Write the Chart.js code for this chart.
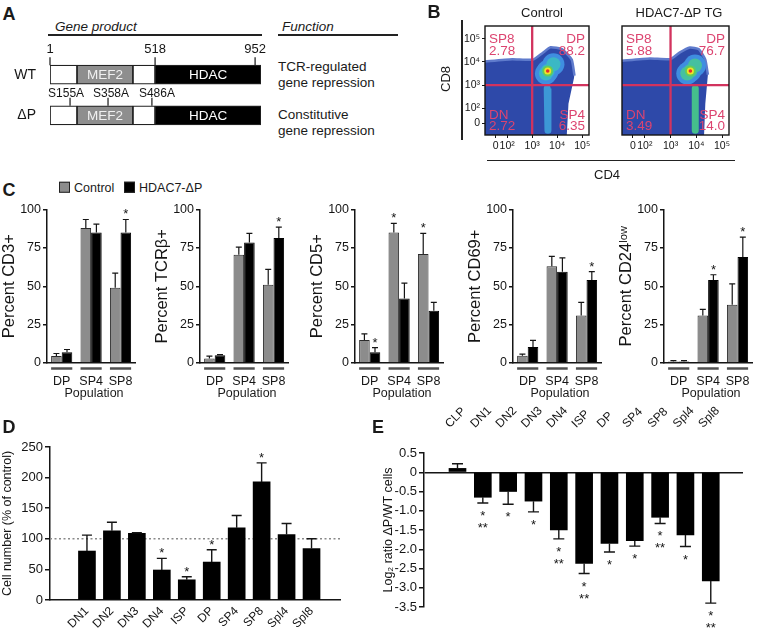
<!DOCTYPE html>
<html><head><meta charset="utf-8">
<script src="https://cdn.jsdelivr.net/npm/chart.js@4.4.1/dist/chart.umd.min.js"></script>
<style>
html,body{margin:0;padding:0;background:#fff;}
#fig{position:relative;width:760px;height:633px;overflow:hidden;font-family:'Liberation Sans',Arial,Helvetica,sans-serif;color:#1a1a1a;background:#fff;}
#fig canvas{position:absolute;}
.t{position:absolute;white-space:nowrap;line-height:1;z-index:5;}
.rule{position:absolute;background:#222;z-index:5;}
.sq{display:inline-block;width:9px;height:9px;border:1px solid #222;vertical-align:-1px;margin-right:4px;}
</style></head><body><div id="fig"></div>
<script>
// ---------------- DATA ----------------
// Panel A: domain map (diagram units 0-100 along the protein)
const aRows = ['WT', 'ΔP'];
const aSegStart = [0, 12.8, 39.3, 49.8];
const aSegEnd = [12.8, 39.3, 49.8, 100];
const aSegName = ['', 'MEF2', '', 'HDAC'];
const aWtMarks = [0, 49.8, 97.2];
const aWtMarkLabels = ['1', '518', '952'];
const aSiteMarks = [9.5, 27.5, 48.3];
const aSiteLabels = ['S155A', 'S358A', 'S486A'];

// Panel B: flow cytometry (log10 fluorescence units)
const flowTickPosX = [1.54, 2, 3, 4, 5];
const flowTickPosY = [1.35, 2, 3, 4, 5];
const flowTickLabels = ['0', '10²', '10³', '10⁴', '10⁵'];
const flowGateCD4 = 3;
const flowGateCD8 = 3;
const quadNames = ['SP8', 'DP', 'DN', 'SP4'];
const ctrlQuadPct = ['2.78', '88.2', '2.72', '6.35'];
const tgQuadPct = ['5.88', '76.7', '3.49', '14.0'];
const ctrlUpper = [{x:1.1,y:4.02},{x:2.2,y:4.12},{x:3.04,y:4.1},{x:3.42,y:4.39},{x:3.73,y:4.63},{x:4.19,y:4.55},{x:4.58,y:4.1},{x:4.69,y:3.41}];
const ctrlLower = [{x:1.1,y:0.8},{x:4.38,y:0.8},{x:4.45,y:2.2},{x:4.69,y:3.41}];
const ctrlHalo = [{x:3.55,y:3.5},{x:3.62,y:3.61},{x:3.85,y:3.9}];
const ctrlCore = [{x:3.62,y:3.61}];
const ctrlStripe = [{x:3.6,y:2.85},{x:3.63,y:1.05}];
const tgUpper = [{x:1.1,y:4.05},{x:2.2,y:4.15},{x:3.0,y:4.12},{x:3.35,y:4.4},{x:3.75,y:4.62},{x:4.1,y:4.55},{x:4.35,y:4.1},{x:4.45,y:3.45}];
const tgLower = [{x:1.1,y:0.8},{x:4.3,y:0.8},{x:4.35,y:2.2},{x:4.45,y:3.45}];
const tgHalo = [{x:3.65,y:3.5},{x:3.77,y:3.61},{x:3.95,y:3.85}];
const tgCore = [{x:3.77,y:3.61}];
const tgStripe = [{x:3.96,y:2.85},{x:3.96,y:1.05}];

// Panel C: percent positive, Control vs HDAC7-ΔP
const cGroups = ['DP', 'SP4', 'SP8'];
const cd3Control = [4.5, 88, 49];   const cd3ControlErr = [6.2, 93.5, 58.5]; const cd3ControlStars = ['', '', ''];
const cd3Hdac = [7, 85, 85];        const cd3HdacErr = [8.8, 90.5, 93.5];    const cd3HdacStars = ['', '', '*'];
const tcrControl = [3, 70.5, 51];   const tcrControlErr = [4.5, 75.5, 61];    const tcrControlStars = ['', '', ''];
const tcrHdac = [5, 78.5, 81.5];    const tcrHdacErr = [5.5, 84.5, 88.5];     const tcrHdacStars = ['', '', '*'];
const cd5Control = [15, 85, 71];    const cd5ControlErr = [19, 91, 84.5];     const cd5ControlStars = ['', '*', '*'];
const cd5Hdac = [7, 42, 34];        const cd5HdacErr = [10, 52, 39.5];        const cd5HdacStars = ['*', '', ''];
const cd69Control = [4.8, 63, 31];  const cd69ControlErr = [5.8, 69.5, 39.5]; const cd69ControlStars = ['', '', ''];
const cd69Hdac = [10.5, 59.5, 54];  const cd69HdacErr = [14.8, 68.5, 59.5];   const cd69HdacStars = ['', '', '*'];
const cd24Control = [1, 31, 38];    const cd24ControlErr = [1.5, 35, 51.5];   const cd24ControlStars = ['', '', ''];
const cd24Hdac = [1, 54, 69];       const cd24HdacErr = [1.5, 57.5, 82];      const cd24HdacStars = ['', '*', '*'];
const cTitles = ['Percent CD3+', 'Percent TCRβ+', 'Percent CD5+', 'Percent CD69+', 'Percent CD24ˡᵒʷ'];
const cYTicks = [0, 25, 50, 75, 100];

// Panel D: cell number (% of control)
const dCats = ['DN1', 'DN2', 'DN3', 'DN4', 'ISP', 'DP', 'SP4', 'SP8', 'Spl4', 'Spl8'];
const dValues = [80, 113, 109, 49, 33, 62, 118, 193, 107, 84];
const dErrTop = [106, 127, 110, 68, 38, 82, 138, 224, 125, 100];
const dStars = ['', '', '', '*', '*', '*', '', '*', '', ''];
const dReference = 100;

// Panel E: log2 ratio ΔP/WT
const eCats = ['CLP', 'DN1', 'DN2', 'DN3', 'DN4', 'ISP', 'DP', 'SP4', 'SP8', 'Spl4', 'Spl8'];
const eValues = [0.1, -0.65, -0.5, -0.75, -1.5, -2.37, -1.85, -1.78, -1.17, -1.63, -2.82];
const eErrEnd = [0.22, -0.8, -0.83, -1.03, -1.73, -2.63, -2.07, -1.92, -1.33, -1.93, -3.4];
const eStars = ['', '*\n**', '*', '*', '*\n**', '*\n**', '*', '*', '*\n**', '*', '*\n**'];

// ---------------- SETUP ----------------
const FONT = "'Liberation Sans', Arial, Helvetica, sans-serif";
Chart.defaults.font.family = FONT;
Chart.defaults.color = '#1a1a1a';
Chart.defaults.animation = false;
Chart.defaults.responsive = false;
Chart.defaults.devicePixelRatio = 1;
Chart.defaults.plugins.legend.display = false;
Chart.defaults.plugins.tooltip.enabled = false;
Chart.defaults.events = [];
const INK = '#151515';
const fig = document.getElementById('fig');

function mk(left, top, w, h) {
  const c = document.createElement('canvas');
  c.width = w; c.height = h;
  c.style.left = left + 'px'; c.style.top = top + 'px';
  c.style.width = w + 'px'; c.style.height = h + 'px';
  fig.appendChild(c);
  return c;
}
function txt(s, x, y, o = {}) {
  const d = document.createElement('div');
  d.className = 't';
  d.innerHTML = s;
  d.style.left = x + 'px'; d.style.top = y + 'px';
  d.style.fontSize = (o.size || 13) + 'px';
  if (o.bold) d.style.fontWeight = 'bold';
  if (o.italic) d.style.fontStyle = 'italic';
  if (o.color) d.style.color = o.color;
  const ax = o.align === 'left' ? '0' : o.align === 'right' ? '-100%' : '-50%';
  d.style.transform = `translate(${ax},-50%)` + (o.rot ? ` rotate(${o.rot}deg)` : '');
  fig.appendChild(d);
  return d;
}
function rule(x1, y1, x2, y2) {
  const d = document.createElement('div');
  d.className = 'rule';
  d.style.left = x1 + 'px'; d.style.top = y1 + 'px';
  d.style.width = Math.max(1.5, x2 - x1) + 'px'; d.style.height = Math.max(1.5, y2 - y1) + 'px';
  fig.appendChild(d);
}

// ---------------- PLUGINS ----------------
const errBarPlugin = {
  id: 'errBars',
  defaults: {cap: 3, lineWidth: 1.3, starFont: 13, below: false},
  afterDatasetsDraw(chart, args, o) {
    const ctx = chart.ctx;
    chart.data.datasets.forEach((ds, di) => {
      if (!ds.errEnd) return;
      const meta = chart.getDatasetMeta(di);
      const ys = chart.scales[meta.yAxisID];
      meta.data.forEach((bar, i) => {
        const e = ds.errEnd[i];
        if (e === null || e === undefined) return;
        const py = ys.getPixelForValue(e);
        ctx.save();
        ctx.strokeStyle = INK; ctx.lineWidth = o.lineWidth;
        ctx.beginPath();
        ctx.moveTo(bar.x, bar.y); ctx.lineTo(bar.x, py);
        ctx.moveTo(bar.x - o.cap, py); ctx.lineTo(bar.x + o.cap, py);
        ctx.stroke();
        const s = ds.stars ? ds.stars[i] : '';
        if (s) {
          ctx.fillStyle = INK; ctx.font = o.starFont + 'px ' + FONT;
          ctx.textAlign = 'center'; ctx.textBaseline = 'alphabetic';
          const lines = s.split('\n');
          lines.forEach((ln, k) => {
            const y = o.below ? py + 17 + k * 12 : py - 1 - (lines.length - 1 - k) * 12;
            ctx.fillText(ln, bar.x, y);
          });
        }
        ctx.restore();
      });
    });
  }
};
const groupLinePlugin = {
  id: 'groupLine',
  afterDraw(chart) {
    const ctx = chart.ctx, area = chart.chartArea;
    const metas = chart.data.datasets.map((d, i) => chart.getDatasetMeta(i));
    chart.data.labels.forEach((lab, i) => {
      let l = Infinity, r = -Infinity;
      metas.forEach(m => { const b = m.data[i]; l = Math.min(l, b.x - b.width / 2); r = Math.max(r, b.x + b.width / 2); });
      ctx.save(); ctx.strokeStyle = '#505050'; ctx.lineWidth = 2.5;
      ctx.beginPath(); ctx.moveTo(l, area.bottom + 5.5); ctx.lineTo(r, area.bottom + 5.5); ctx.stroke();
      ctx.restore();
    });
  }
};
const refLinePlugin = {
  id: 'refLine',
  defaults: {value: null},
  beforeDatasetsDraw(chart, args, o) {
    if (o.value === null) return;
    const ctx = chart.ctx, a = chart.chartArea;
    const y = chart.scales.y.getPixelForValue(o.value);
    ctx.save(); ctx.strokeStyle = '#8a8a8a'; ctx.lineWidth = 1.6; ctx.setLineDash([2, 2.5]);
    ctx.beginPath(); ctx.moveTo(a.left, y); ctx.lineTo(a.right, y); ctx.stroke(); ctx.restore();
  }
};
const domainPlugin = {
  id: 'domainText',
  defaults: {rows: []},
  afterDatasetsDraw(chart, args, o) {
    const ctx = chart.ctx, xs = chart.scales.x;
    ctx.save();
    ctx.font = '13.5px ' + FONT; ctx.textAlign = 'center'; ctx.textBaseline = 'middle';
    chart.data.datasets.forEach((ds, di) => {
      if (!ds.segText) return;
      chart.getDatasetMeta(di).data.forEach(b => {
        ctx.fillStyle = ds.segTextColor;
        ctx.fillText(ds.segText, (b.x + b.base) / 2, b.y + 1);
      });
    });
    ctx.strokeStyle = INK; ctx.lineWidth = 1.2; ctx.fillStyle = INK;
    ctx.textBaseline = 'alphabetic';
    o.rows.forEach(r => {
      ctx.font = r.size + 'px ' + FONT;
      const b = chart.getDatasetMeta(0).data[r.row];
      const top = b.y - b.height / 2;
      r.pos.forEach((p, k) => {
        const px = xs.getPixelForValue(p);
        ctx.beginPath(); ctx.moveTo(px, top); ctx.lineTo(px, top - 8); ctx.stroke();
        ctx.fillText(r.labels[k], px + (r.dx ? r.dx[k] : 0), top - 8 - r.gap);
      });
    });
    ctx.restore();
  }
};
const flowDecoPlugin = {
  id: 'flowDeco',
  defaults: {gateX: 3, gateY: 3, names: [], pcts: []},
  afterDatasetsDraw(chart, args, o) {
    const {ctx, chartArea: ar, scales: {x, y}} = chart;
    ctx.save();
    const gx = x.getPixelForValue(o.gateX), gy = y.getPixelForValue(o.gateY);
    ctx.strokeStyle = '#d2335e'; ctx.lineWidth = 2.3;
    ctx.beginPath(); ctx.moveTo(gx, ar.top); ctx.lineTo(gx, ar.bottom);
    ctx.moveTo(ar.left, gy); ctx.lineTo(ar.right, gy); ctx.stroke();
    ctx.strokeStyle = INK; ctx.lineWidth = 1.4;
    ctx.strokeRect(ar.left, ar.top, ar.width, ar.height);
    ctx.fillStyle = '#dc4470'; ctx.font = '13.5px ' + FONT; ctx.textBaseline = 'alphabetic';
    const spots = [
      {x: ar.left + 4, y: ar.top + 17, al: 'left'},
      {x: ar.right - 4, y: ar.top + 17, al: 'right'},
      {x: ar.left + 4, y: ar.bottom - 16.5, al: 'left'},
      {x: ar.right - 4, y: ar.bottom - 16.5, al: 'right'}];
    spots.forEach((s, k) => {
      ctx.textAlign = s.al;
      ctx.fillText(o.names[k], s.x, s.y);
      ctx.fillText(o.pcts[k], s.x, s.y + 11.5);
    });
    ctx.restore();
  }
};

// ---------------- PANEL A ----------------
const aColors = ['#ffffff', '#8e8e8e', '#ffffff', '#000000'];
const aTextColors = ['#000', '#f0f0f0', '#000', '#ffffff'];
new Chart(mk(0, 40, 270, 110), {
  type: 'bar',
  data: {
    labels: aRows,
    datasets: aSegStart.map((s, k) => ({
      label: aSegName[k] || 'linker',
      data: aRows.map(() => [s, aSegEnd[k]]),
      backgroundColor: aColors[k], borderColor: '#222', borderWidth: 1.2,
      borderSkipped: false, barThickness: 19, grouped: false,
      segText: aSegName[k], segTextColor: aTextColors[k]
    }))
  },
  options: {
    indexAxis: 'y',
    layout: {padding: {left: 0, right: 9, top: 10, bottom: 4}},
    scales: {
      x: {display: false, min: 0, max: 100},
      y: {grid: {display: false}, border: {display: false},
          ticks: {font: {size: 14}, padding: 6, color: INK},
          afterFit: s => { s.width = 50; }}
    },
    plugins: {domainText: {rows: [
      {row: 0, pos: aWtMarks, labels: aWtMarkLabels, gap: 4, size: 13},
      {row: 1, pos: aSiteMarks, labels: aSiteLabels, gap: 1, size: 12, dx: [-4, 3, 5]}]}}
  },
  plugins: [domainPlugin]
});
txt('Gene product', 55, 27, {italic: true, size: 13.5, align: 'left'});
rule(48, 34, 262, 35.5);
txt('Function', 282, 27, {italic: true, size: 13.5, align: 'left'});
rule(278, 34, 398, 35.5);
txt('TCR-regulated', 278, 67, {size: 13.5, align: 'left'});
txt('gene repression', 278, 83, {size: 13.5, align: 'left'});
txt('Constitutive', 278, 115, {size: 13.5, align: 'left'});
txt('gene repression', 278, 131, {size: 13.5, align: 'left'});

// ---------------- PANEL B ----------------
function flowSets(upper, lower, halo, core, stripe, stripeColor, haloColor) {
  return [
    {data: upper, showLine: true, borderColor: '#5f7bcc', borderWidth: 2.5, pointRadius: 0, tension: 0.15,
     fill: '+1', backgroundColor: '#2e49a9', order: 10},
    {data: lower, showLine: true, borderWidth: 0, pointRadius: 0, fill: false, order: 11},
    {data: stripe, showLine: true, borderColor: stripeColor, borderWidth: 7, borderCapStyle: 'round', pointRadius: 0, order: 7},
    {data: halo, pointRadius: 11, pointBackgroundColor: '#3f8ee0', pointBorderWidth: 0, order: 6},
    {data: halo, pointRadius: 7, pointBackgroundColor: haloColor, pointBorderWidth: 0, order: 5},
    {data: core, pointRadius: 5.5, pointBackgroundColor: '#63cc58', pointBorderWidth: 0, order: 4},
    {data: core, pointRadius: 3.5, pointBackgroundColor: '#f2e326', pointBorderWidth: 0, order: 3},
    {data: core, pointRadius: 1.8, pointBackgroundColor: '#e3302b', pointBorderWidth: 0, order: 2}
  ];
}
function flowChart(left, width, padLeft, padRight, showY, sets, pcts) {
  return new Chart(mk(left, 15, width, 150), {
    type: 'scatter',
    data: {datasets: sets},
    options: {
      layout: {padding: {left: padLeft, right: padRight, top: 5, bottom: 8}},
      scales: {
        x: {type: 'linear', min: 1.115, max: 5.27,
            afterBuildTicks: s => { s.ticks = flowTickPosX.map(v => ({value: v})); },
            ticks: {callback: (v, i) => flowTickLabels[i], font: {size: 10.5}, padding: 2, color: INK, autoSkip: false, maxRotation: 0},
            grid: {drawOnChartArea: false, tickLength: 3, color: INK},
            border: {display: false},
            afterFit: s => { s.height = 22; }},
        y: {type: 'linear', min: 0.85, max: 5.55, display: showY,
            afterBuildTicks: s => { s.ticks = flowTickPosY.map(v => ({value: v})); },
            ticks: {callback: (v, i) => flowTickLabels[i], font: {size: 10.5}, padding: 2, color: INK, autoSkip: false},
            grid: {drawOnChartArea: false, tickLength: 3, color: INK},
            border: {display: false},
            afterFit: s => { s.width = showY ? 55 : 0; }}
      },
      plugins: {flowDeco: {gateX: flowGateCD4, gateY: flowGateCD8, names: quadNames, pcts: pcts}}
    },
    plugins: [flowDecoPlugin]
  });
}
flowChart(430, 170, 0, 7, true, flowSets(ctrlUpper, ctrlLower, ctrlHalo, ctrlCore, ctrlStripe, '#3d98d6', '#3bb8c4'), ctrlQuadPct);
flowChart(611, 130, 10, 12, false, flowSets(tgUpper, tgLower, tgHalo, tgCore, tgStripe, '#45bf8c', '#45c0a0'), tgQuadPct);
txt('Control', 542, 12, {size: 13});
txt('HDAC7-ΔP TG', 679, 12, {size: 13});
txt('CD8', 445, 79, {size: 13, rot: -90});
rule(461, 20, 462.5, 140);
rule(487, 159.5, 735, 161);
txt('CD4', 607, 174, {size: 13});

// ---------------- PANEL C ----------------
const cAxisX = [47, 200, 355, 513, 664];
const cSets = [
  [cd3Control, cd3ControlErr, cd3ControlStars, cd3Hdac, cd3HdacErr, cd3HdacStars],
  [tcrControl, tcrControlErr, tcrControlStars, tcrHdac, tcrHdacErr, tcrHdacStars],
  [cd5Control, cd5ControlErr, cd5ControlStars, cd5Hdac, cd5HdacErr, cd5HdacStars],
  [cd69Control, cd69ControlErr, cd69ControlStars, cd69Hdac, cd69HdacErr, cd69HdacStars],
  [cd24Control, cd24ControlErr, cd24ControlStars, cd24Hdac, cd24HdacErr, cd24HdacStars]
];
cSets.forEach((S, i) => {
  const ax = cAxisX[i];
  new Chart(mk(ax - 47, 200, 144, 200), {
    type: 'bar',
    data: {labels: cGroups, datasets: [
      {label: 'Control', data: S[0], backgroundColor: '#8c8c8c', borderColor: '#2a2a2a', borderWidth: 1, errEnd: S[1], stars: S[2]},
      {label: 'HDAC7-ΔP', data: S[3], backgroundColor: '#000', borderColor: '#000', borderWidth: 1, errEnd: S[4], stars: S[5]}
    ]},
    options: {
      categoryPercentage: 0.72, barPercentage: 1,
      layout: {padding: {left: 0, right: 4, top: 8, bottom: 7}},
      scales: {
        x: {grid: {drawOnChartArea: false, drawTicks: false}, border: {color: INK, width: 1.5},
            ticks: {font: {size: 12.5}, padding: 11, color: INK},
            afterFit: s => { s.height = 30; }},
        y: {min: 0, max: 100,
            afterBuildTicks: s => { s.ticks = cYTicks.map(v => ({value: v})); },
            ticks: {font: {size: 12.5}, padding: 2, color: INK},
            grid: {drawOnChartArea: false, tickLength: 4, color: INK, lineWidth: 1.5},
            border: {color: INK, width: 1.5},
            title: {display: true, text: cTitles[i], font: {size: 16.5}, color: INK, padding: {top: 0, bottom: 0}},
            afterFit: s => { s.width = 47; }}
      },
      plugins: {errBars: {cap: 3, lineWidth: 1.2, starFont: 13}}
    },
    plugins: [errBarPlugin, groupLinePlugin]
  });
  txt('Population', ax + 47, 393, {size: 12.5});
});
txt('<span class="sq" style="background:#8c8c8c"></span>Control', 59, 188, {size: 12.5, align: 'left'});
txt('<span class="sq" style="background:#000"></span>HDAC7-ΔP', 124, 188, {size: 12.5, align: 'left'});

// ---------------- PANEL D ----------------
new Chart(mk(0, 430, 345, 203), {
  type: 'bar',
  data: {datasets: [{label: 'Cell number', data: dCats.map((c, i) => ({x: i, y: dValues[i]})),
    backgroundColor: '#000', barThickness: 17, errEnd: dErrTop, stars: dStars}]},
  options: {
    layout: {padding: {left: 0, right: 5, top: 17, bottom: 0}},
    scales: {
      x: {type: 'linear', min: -0.9, max: 9.56,
          afterBuildTicks: s => { s.ticks = dCats.map((c, i) => ({value: i})); },
          ticks: {callback: v => dCats[v], minRotation: 45, maxRotation: 45, autoSkip: false, font: {size: 12}, padding: 4, color: INK},
          grid: {drawOnChartArea: false, drawTicks: false}, border: {color: INK, width: 1.5},
          afterFit: s => { s.height = 33; }},
      y: {min: 0, max: 250, ticks: {stepSize: 50, font: {size: 13}, padding: 2, color: INK},
          grid: {drawOnChartArea: false, tickLength: 5, color: INK, lineWidth: 1.5},
          border: {color: INK, width: 1.5},
          title: {display: true, text: 'Cell number (% of control)', font: {size: 12.5}, color: INK, padding: {top: 0, bottom: 2}},
          afterFit: s => { s.width = 50; }}
    },
    plugins: {errBars: {cap: 5, lineWidth: 1.4, starFont: 13}, refLine: {value: dReference}}
  },
  plugins: [refLinePlugin, errBarPlugin]
});

// ---------------- PANEL E ----------------
new Chart(mk(375, 390, 385, 243), {
  type: 'bar',
  data: {datasets: [{label: 'Log2 ratio', data: eCats.map((c, i) => ({x: i, y: eValues[i]})),
    backgroundColor: '#000', barThickness: 17, errEnd: eErrEnd, stars: eStars}]},
  options: {
    layout: {padding: {left: 0, right: 17, top: 0, bottom: 26}},
    scales: {
      x: {type: 'linear', position: 'top', min: -0.75, max: 10.7,
          afterBuildTicks: s => { s.ticks = eCats.map((c, i) => ({value: i})); },
          ticks: {callback: v => eCats[v], minRotation: 45, maxRotation: 45, autoSkip: false, font: {size: 12}, padding: 22, color: INK},
          grid: {drawOnChartArea: false, drawTicks: false}, border: {display: false},
          afterFit: s => { s.height = 63; }},
      y: {min: -3.5, max: 0.5,
          ticks: {stepSize: 0.5, font: {size: 13}, padding: 2, color: INK,
                  callback: v => Math.abs(v) < 1e-9 ? '0' : v.toFixed(1)},
          grid: {color: c => (c.tick && Math.abs(c.tick.value) < 1e-9) ? INK : 'rgba(0,0,0,0)', tickColor: INK, tickLength: 5, lineWidth: 1.5},
          border: {color: INK, width: 1.5},
          title: {display: true, text: 'Log₂ ratio ΔP/WT cells', font: {size: 12.5}, color: INK, padding: {top: 6, bottom: 0}},
          afterFit: s => { s.width = 49; }}
    },
    plugins: {errBars: {cap: 5.5, lineWidth: 1.4, starFont: 13, below: true}}
  },
  plugins: [errBarPlugin]
});

// ---------------- PANEL LETTERS ----------------
txt('A', 9, 14, {size: 18, bold: true});
txt('B', 434, 12, {size: 18, bold: true});
txt('C', 9, 190, {size: 18, bold: true});
txt('D', 9, 427, {size: 18, bold: true});
txt('E', 378, 427, {size: 18, bold: true});
</script></body></html>
